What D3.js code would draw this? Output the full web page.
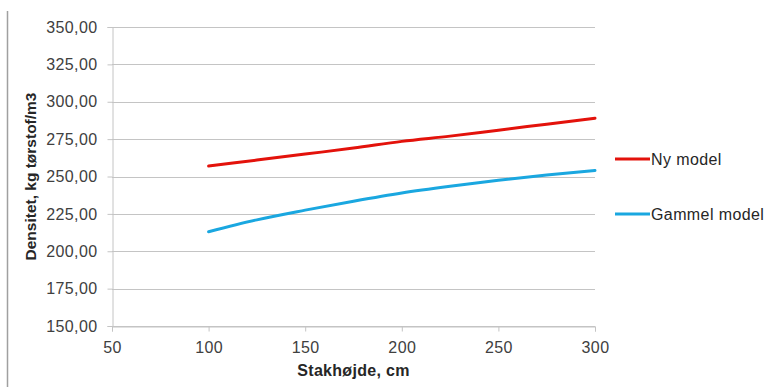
<!DOCTYPE html>
<html>
<head>
<meta charset="utf-8">
<script src="https://cdn.jsdelivr.net/npm/d3@7/dist/d3.min.js"></script>
<style>
  html, body { margin: 0; padding: 0; background: #fff; }
  svg { display: block; font-family: "Liberation Sans", Arial, sans-serif; }
</style>
</head>
<body>
<svg id="chart" width="772" height="387"></svg>
<script>
// Stack height (cm) at which density is given
const heights = [100, 125, 150, 175, 200, 225, 250, 275, 300];
// Density, kg dry matter per m3
const nyModel = [257, 261, 265, 269, 273.5, 277, 281, 285, 289];
const gammelModel = [213, 221, 227.5, 233.5, 239, 243.5, 247.5, 251, 254];
const seriesNames = ["Ny model", "Gammel model"];
const seriesColors = ["#e3120b", "#1aa7e0"];
const xTicks = [50, 100, 150, 200, 250, 300];
const yTicks = [150, 175, 200, 225, 250, 275, 300, 325, 350];

const svg = d3.select("#chart");
const plotLeft = 112, plotRight = 595, plotTop = 27, plotBottom = 326;

const x = d3.scaleLinear().domain([50, 300]).range([plotLeft, plotRight]);
const y = d3.scaleLinear().domain([150, 350]).range([plotBottom, plotTop]);
const fmt = v => d3.format(".2f")(v).replace(".", ",");

// outer frame line on the left
svg.append("line")
  .attr("x1", 7.5).attr("x2", 7.5).attr("y1", 11).attr("y2", 387)
  .attr("stroke", "#a0a0a0").attr("stroke-width", 1.5);

// horizontal gridlines
svg.append("g")
  .selectAll("line").data(yTicks).join("line")
  .attr("x1", plotLeft).attr("x2", plotRight)
  .attr("y1", d => Math.round(y(d)) + 0.5).attr("y2", d => Math.round(y(d)) + 0.5)
  .attr("stroke", "#c4c4c4").attr("stroke-width", 1);

// y axis
const yAxis = svg.append("g")
  .attr("transform", `translate(${plotLeft + 0.5},0)`)
  .call(d3.axisLeft(y).tickValues(yTicks).tickFormat(fmt).tickSize(5).tickPadding(10));
yAxis.select(".domain").attr("stroke", "#c4c4c4");
yAxis.selectAll(".tick line").attr("stroke", "#c4c4c4");
yAxis.selectAll(".tick text").attr("fill", "#404040")
  .style("font-size", "16px").style("letter-spacing", "0.4px");

// x axis
const xAxis = svg.append("g")
  .attr("transform", `translate(0,${Math.round(y(150)) + 0.5})`)
  .call(d3.axisBottom(x).tickValues(xTicks).tickFormat(d3.format("d")).tickSize(5).tickPadding(10));
xAxis.select(".domain").attr("stroke", "#c4c4c4");
xAxis.selectAll(".tick line").attr("stroke", "#c4c4c4");
xAxis.selectAll(".tick text").attr("fill", "#404040")
  .style("font-size", "16px").style("letter-spacing", "0.4px");

// axis titles
svg.append("text")
  .attr("x", x(175)).attr("y", 376)
  .attr("text-anchor", "middle")
  .style("font-size", "16px").style("font-weight", "bold").style("letter-spacing", "0.3px")
  .attr("fill", "#262626")
  .text("Stakhøjde, cm");
svg.append("text")
  .attr("transform", `translate(36,${(plotTop + plotBottom) / 2}) rotate(-90)`)
  .attr("text-anchor", "middle")
  .style("font-size", "15.5px").style("font-weight", "bold")
  .attr("fill", "#262626")
  .text("Densitet, kg tørstof/m3");

// series lines
const line = d3.line()
  .x(d => x(d[0])).y(d => y(d[1]))
  .curve(d3.curveMonotoneX);
[nyModel, gammelModel].forEach((vals, i) => {
  svg.append("path")
    .datum(heights.map((h, j) => [h, vals[j]]))
    .attr("fill", "none")
    .attr("stroke", seriesColors[i])
    .attr("stroke-width", 3)
    .attr("stroke-linecap", "round")
    .attr("d", line);
});

// legend
const legendY = [159, 214];
seriesNames.forEach((name, i) => {
  svg.append("line")
    .attr("x1", 615).attr("x2", 650)
    .attr("y1", legendY[i]).attr("y2", legendY[i])
    .attr("stroke", seriesColors[i]).attr("stroke-width", 3);
  svg.append("text")
    .attr("x", 651).attr("y", legendY[i] + 6)
    .style("font-size", "16px").style("letter-spacing", "0.4px")
    .attr("fill", "#262626")
    .text(name);
});
</script>
</body>
</html>
